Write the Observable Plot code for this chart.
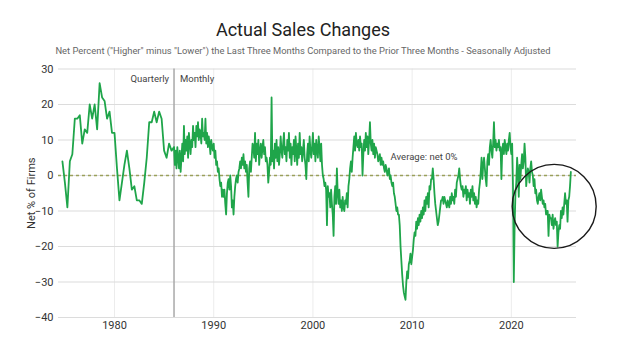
<!DOCTYPE html>
<html>
<head>
<meta charset="utf-8">
<script src="https://cdn.jsdelivr.net/npm/d3@7"></script>
<script src="https://cdn.jsdelivr.net/npm/@observablehq/plot@0.6"></script>
<style>
  html, body { margin: 0; padding: 0; background: #fff; }
  #wrap { position: relative; width: 624px; height: 359px; overflow: hidden; font-family: Roboto, sans-serif; }
  #title { position: absolute; left: 0; width: 606px; top: 21px; text-align: center; font-size: 18px; line-height: 1; color: #222; }
  #subtitle { position: absolute; left: 0; width: 606px; top: 46px; text-align: center; font-size: 9.4px; line-height: 1; color: #666; white-space: nowrap; }
  #chart { position: absolute; left: 0; top: 60px; }
</style>
</head>
<body>
<div id="wrap">
  <div id="title">Actual Sales Changes</div>
  <div id="subtitle">Net Percent ("Higher" minus "Lower") the Last Three Months Compared to the Prior Three Months - Seasonally Adjusted</div>
  <div id="chart"></div>
</div>
<script>
// Quarterly readings, 1974 Q4 through 1985 Q4
const quarterlyStart = 1974.75;
const quarterlyValues = [
  4,
  -2, -9, 4, 6,
  16, 16, 17, 9,
  13, 12, 20, 16,
  20, 13, 26, 22,
  21, 16, 18, 12,
  12, 2, -7, -2,
  3, 7, 2, -4,
  -3, -7, -7, -8,
  -2, 5, 15, 15,
  18, 15, 18, 16,
  7, 5, 9, 7
];

// Monthly readings, Jan 1986 onward (one row per year)
const monthlyStart = 1986;
const monthlyValues = [
  8, 3, 7, 2, 8, 5, 2, 7, 1, 5, 9, 4,            // 1986
  14, 6, 10, 7, 11, 5, 12, 9, 6, 10, 8, 14,      // 1987
  10, 12, 8, 14, 11, 15, 10, 13, 12, 9, 16, 11,  // 1988
  12, 10, 16, 9, 12, 8, 11, 9, 6, 10, 8, 7,      // 1989
  9, 5, 7, 3, 4, 1, 2, -1, -3, -2, -6, -4,       // 1990
  -6, -4, -8, -11, -5, -2, -1, -4, 0, -3, -9, -7,// 1991
  -11, -6, -3, -1, 0, -2, 1, 2, 4, 2, 5, 3,      // 1992
  6, 2, 4, 1, 3, -2, -6, 2, 4, 1, 5, 9,          // 1993
  8, 5, 12, 4, 9, 6, 10, 3, 7, 9, 5, 8,          // 1994
  10, 6, 8, 4, 5, 3, -2, 1, 5, 3, 22, 4,         // 1995
  7, 2, 9, 5, 10, 4, 8, 3, 6, 11, 7, 5,          // 1996
  9, 12, 6, 8, 4, 10, 7, 12, 5, 9, 3, 8,         // 1997
  6, 10, 4, 11, 7, 3, 9, 5, 12, 6, 8, 4,         // 1998
  7, 10, 5, 3, -1, 6, 9, 4, 11, 7, 5, 8,         // 1999
  12, 6, 9, 4, 10, 7, 5, 11, 8, 4, 9, 3,         // 2000
  0, -1, -3, -2, -4, -14, -3, -6, -5, -9, -4, -8,// 2001
  -11, -17, -6, -3, -8, 2, -5, -8, -4, -9, -7, -10, // 2002
  -6, -9, -10, -7, -8, -5, -9, -3, -1, 2, 4, 1,  // 2003
  5, 8, 11, 7, 12, 9, 8, 10, 7, 11, 8, 9,        // 2004
  0, 6, 10, 7, 12, 8, 11, 6, 10, 15, 9, 7,       // 2005
  10, 6, 9, 5, 8, 7, 6, 4, 5, 6, 3, 5,           // 2006
  3, 4, 2, 1, 3, 2, 0, 1, 2, -1, 0, -2,          // 2007
  -3, -2, -5, -6, -8, -10, -9, -11, -11, -14, -20, -24, // 2008
  -28, -31, -33, -34, -35, -30, -27, -29, -25, -24, -22, -25, // 2009
  -23, -21, -18, -16, -17, -13, -15, -12, -14, -11, -13, -10, // 2010
  -12, -9, -11, -7, -10, -6, -8, -5, -9, -3, -4, -1, // 2011
  -1, 2, -1, -5, -8, -10, -12, -14, -13, -11, -9, -7, // 2012
  -7, -6, -8, -6, -7, -8, -9, -7, -8, -9, -6, -8, // 2013
  -5, -7, -6, -8, -4, -6, -2, -1, 0, 2, -1, -3,  // 2014
  -4, -3, -6, -4, -5, -3, -7, -4, -6, -5, -8, -4,// 2015
  -6, -3, -7, -5, -8, -6, -9, -7, -8, -4, -2, 1, // 2016
  5, -1, 3, 5, 2, -1, -3, 4, 6, 3, 8, 10,        // 2017
  7, 5, 9, 15, 8, 10, 7, 9, 8, 10, 7, 8,         // 2018
  -1, 7, 9, 6, 10, 8, 6, 9, 7, 10, 12, 8,        // 2019
  6, 9, -3, -30, -14, -5, -2, 5, 1, -6, 3, -1,   // 2020
  3, 6, 2, 4, 9, 5, -3, 0, 2, 1, -2, 2,          // 2021
  4, 1, 0, -3, -1, -5, -4, -7, -8, -6, -5, -7,   // 2022
  -4, -6, -8, -7, -9, -8, -11, -10, -10, -17, -11, -12, // 2023
  -12, -14, -11, -15, -13, -12, -14, -13, -20, -16, -14, -15, // 2024
  -10, -12, -9, -11, -8, -5, -8, -7, -13, -7, -6, -3, // 2025
  1                                              // 2026
];

const yTicks = [30, 20, 10, 0, -10, -20, -30, -40];
const xTicks = [1980, 1990, 2000, 2010, 2020];
const switchYear = [1986];
const zeroLine = [0];

const phaseLabels = ["Quarterly", "Monthly"];
const averageLabel = "Average: net 0%";
const yAxisTitle = "Net % of Firms";

// highlighted recent period (circle centre)
const highlightYear = [2024.32];
const highlightValue = [-8.7];

const series = [
  ...quarterlyValues.map((v, i) => ({ t: quarterlyStart + i * 0.25, v })),
  ...monthlyValues.map((v, i) => ({ t: monthlyStart + i / 12, v }))
];

const green = "#1fa54a";

const chart = Plot.plot({
  width: 624,
  height: 299,
  marginTop: 8.5,
  marginBottom: 42,
  marginLeft: 58,
  marginRight: 48,
  style: { fontFamily: "Roboto, sans-serif", fontSize: "11px", color: "#333", background: "#fff" },
  x: { domain: [1974.355, 2026.57] },
  y: { domain: [-40, 30] },
  marks: [
    Plot.gridX(xTicks, { stroke: "#ececec", strokeOpacity: 1, strokeWidth: 1 }),
    Plot.gridY(yTicks, { stroke: "#dcdcdc", strokeOpacity: 1, strokeWidth: 1.2 }),
    Plot.axisY(yTicks, { tickSize: 0, tickPadding: 5, label: null, fontSize: 11, fill: "#333" }),
    Plot.axisX(xTicks, { tickSize: 0, tickPadding: 4, tickFormat: "d", label: null, fontSize: 11, fill: "#333" }),
    Plot.text([yAxisTitle], { frameAnchor: "left", dx: -27, rotate: -90, textAnchor: "middle", lineAnchor: "middle", fontSize: 11, fill: "#333" }),
    Plot.ruleY(zeroLine, { stroke: "#9aa05a", strokeWidth: 1.3, strokeDasharray: "3,3" }),
    Plot.ruleX(switchYear, { stroke: "#a9a9a9", strokeWidth: 1.5 }),
    Plot.text([phaseLabels[0]], { x: switchYear[0], y: 27.3, dx: -5, textAnchor: "end", lineAnchor: "middle", fontSize: 9.5, fill: "#444" }),
    Plot.text([phaseLabels[1]], { x: switchYear[0], y: 27.3, dx: 6, textAnchor: "start", lineAnchor: "middle", fontSize: 9.5, fill: "#444" }),
    Plot.text([averageLabel], { x: 2011.2, y: 5.3, textAnchor: "middle", lineAnchor: "middle", fontSize: 9.5, fill: "#444" }),
    Plot.line(series, { x: "t", y: "v", stroke: green, strokeWidth: 1.8, curve: "linear" }),
    Plot.dot(highlightYear.map((t, i) => ({ t, v: highlightValue[i] })), { x: "t", y: "v", r: 42, fill: "none", stroke: "#1a1a1a", strokeWidth: 1.4 })
  ]
});
document.getElementById("chart").appendChild(chart);
</script>
</body>
</html>
